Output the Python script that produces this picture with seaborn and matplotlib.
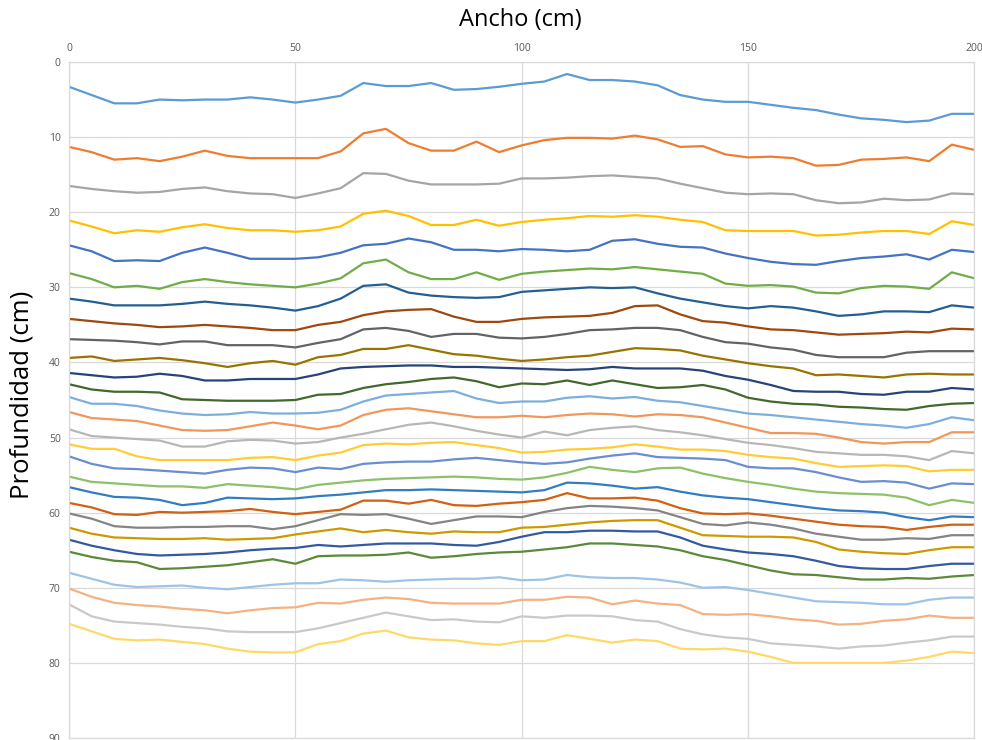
import numpy as np
import pandas as pd
import matplotlib
matplotlib.use('Agg')
import matplotlib.pyplot as plt
import seaborn as sns

# ancho (cm), cada 5 cm
ancho = list(range(0, 201, 5))

# profundidad de cada perfil (cm)
p01 = [3.3, 4.4, 5.5, 5.5, 5.0, 5.1, 5.0, 5.0, 4.7, 5.0, 5.4, 5.0, 4.5, 2.8, 3.2, 3.2, 2.8, 3.7, 3.6, 3.3, 2.9,
       2.6, 1.6, 2.4, 2.4, 2.6, 3.1, 4.4, 5.0, 5.3, 5.3, 5.7, 6.1, 6.4, 7.0, 7.5, 7.7, 8.0, 7.8, 6.9, 6.9]
p02 = [11.3, 12.0, 13.0, 12.8, 13.2, 12.6, 11.8, 12.5, 12.8, 12.8, 12.8, 12.8, 11.9, 9.5, 8.9, 10.8, 11.8, 11.8, 10.6, 12.0, 11.1,
       10.4, 10.1, 10.1, 10.2, 9.8, 10.3, 11.3, 11.2, 12.3, 12.7, 12.6, 12.8, 13.8, 13.7, 13.0, 12.9, 12.7, 13.2, 11.0, 11.7]
p03 = [16.5, 16.9, 17.2, 17.4, 17.3, 16.9, 16.7, 17.2, 17.5, 17.6, 18.1, 17.5, 16.8, 14.8, 14.9, 15.8, 16.3, 16.3, 16.3, 16.2, 15.5,
       15.5, 15.4, 15.2, 15.1, 15.3, 15.5, 16.2, 16.8, 17.4, 17.6, 17.5, 17.6, 18.4, 18.8, 18.7, 18.2, 18.4, 18.3, 17.5, 17.6]
p04 = [21.1, 21.9, 22.8, 22.4, 22.6, 22.0, 21.6, 22.1, 22.4, 22.4, 22.6, 22.4, 21.9, 20.2, 19.8, 20.5, 21.7, 21.7, 21.0, 21.8, 21.3,
       21.0, 20.8, 20.5, 20.6, 20.4, 20.6, 21.0, 21.3, 22.4, 22.5, 22.5, 22.5, 23.1, 23.0, 22.7, 22.5, 22.5, 22.9, 21.2, 21.7]
p05 = [24.4, 25.2, 26.5, 26.4, 26.5, 25.4, 24.7, 25.4, 26.2, 26.2, 26.2, 26.0, 25.4, 24.4, 24.2, 23.5, 24.0, 25.0, 25.0, 25.2, 24.9,
       25.0, 25.2, 25.0, 23.8, 23.6, 24.2, 24.6, 24.7, 25.5, 26.1, 26.6, 26.9, 27.0, 26.5, 26.1, 25.9, 25.6, 26.3, 25.0, 25.3]
p06 = [28.1, 28.9, 30.0, 29.8, 30.2, 29.3, 28.9, 29.3, 29.6, 29.8, 30.0, 29.5, 28.8, 26.8, 26.3, 28.0, 28.9, 28.9, 28.0, 29.0, 28.2,
       27.9, 27.7, 27.5, 27.6, 27.3, 27.6, 27.9, 28.2, 29.5, 29.8, 29.7, 29.9, 30.7, 30.8, 30.1, 29.8, 29.9, 30.2, 28.0, 28.8]
p07 = [31.5, 31.9, 32.4, 32.4, 32.4, 32.2, 31.9, 32.2, 32.4, 32.7, 33.1, 32.5, 31.5, 29.8, 29.6, 30.7, 31.1, 31.3, 31.4, 31.3, 30.6,
       30.4, 30.2, 30.0, 30.1, 30.0, 30.8, 31.5, 32.0, 32.5, 32.8, 32.5, 32.7, 33.2, 33.8, 33.6, 33.2, 33.2, 33.3, 32.4, 32.7]
p08 = [34.2, 34.5, 34.8, 35.0, 35.3, 35.2, 35.0, 35.2, 35.4, 35.7, 35.7, 35.0, 34.6, 33.7, 33.2, 33.0, 32.9, 33.9, 34.6, 34.6, 34.2,
       34.0, 33.9, 33.8, 33.4, 32.5, 32.4, 33.6, 34.5, 34.7, 35.2, 35.6, 35.7, 36.0, 36.3, 36.2, 36.1, 35.9, 36.0, 35.5, 35.6]
p09 = [36.9, 37.0, 37.1, 37.3, 37.6, 37.2, 37.2, 37.7, 37.7, 37.7, 38.0, 37.4, 36.9, 35.6, 35.4, 35.8, 36.6, 36.2, 36.2, 36.7, 36.8,
       36.6, 36.2, 35.7, 35.6, 35.4, 35.4, 35.7, 36.6, 37.3, 37.5, 38.0, 38.3, 39.0, 39.3, 39.3, 39.3, 38.7, 38.5, 38.5, 38.5]
p10 = [39.4, 39.2, 39.8, 39.6, 39.4, 39.7, 40.1, 40.6, 40.1, 39.8, 40.3, 39.3, 39.0, 38.2, 38.2, 37.7, 38.3, 38.9, 39.1, 39.5, 39.8,
       39.6, 39.3, 39.1, 38.6, 38.1, 38.2, 38.4, 39.1, 39.6, 40.1, 40.5, 40.8, 41.7, 41.6, 41.8, 42.0, 41.6, 41.5, 41.6, 41.6]
p11 = [41.4, 41.7, 42.0, 41.9, 41.5, 41.8, 42.4, 42.4, 42.2, 42.2, 42.2, 41.6, 40.8, 40.6, 40.5, 40.4, 40.4, 40.6, 40.6, 40.7, 40.8,
       40.9, 41.0, 40.9, 40.6, 40.8, 40.8, 40.8, 41.1, 41.8, 42.3, 43.0, 43.8, 43.9, 43.9, 44.2, 44.3, 43.9, 43.9, 43.4, 43.6]
p12 = [42.9, 43.6, 43.9, 43.9, 44.0, 44.9, 45.0, 45.1, 45.1, 45.1, 45.0, 44.3, 44.2, 43.4, 42.9, 42.6, 42.2, 42.0, 42.5, 43.3, 42.8,
       42.9, 42.4, 43.0, 42.4, 42.9, 43.4, 43.3, 43.0, 43.6, 44.7, 45.2, 45.5, 45.6, 45.9, 46.0, 46.2, 46.3, 45.8, 45.5, 45.4]
p13 = [44.6, 45.5, 45.5, 45.8, 46.4, 46.8, 47.0, 46.9, 46.6, 46.8, 46.8, 46.7, 46.3, 45.2, 44.4, 44.2, 44.0, 43.8, 44.8, 45.4, 45.2,
       45.2, 44.7, 44.5, 44.8, 44.6, 45.1, 45.3, 45.8, 46.3, 46.8, 47.0, 47.3, 47.6, 47.9, 48.2, 48.4, 48.7, 48.2, 47.3, 47.7]
p14 = [46.6, 47.4, 47.6, 47.8, 48.4, 49.0, 49.1, 49.0, 48.5, 48.0, 48.4, 48.9, 48.4, 47.0, 46.3, 46.1, 46.5, 46.9, 47.3, 47.3, 47.1,
       47.3, 47.0, 46.8, 46.9, 47.2, 46.9, 47.0, 47.3, 48.0, 48.7, 49.4, 49.4, 49.5, 50.0, 50.6, 50.8, 50.6, 50.6, 49.3, 49.3]
p15 = [48.9, 49.8, 50.0, 50.2, 50.4, 51.2, 51.2, 50.5, 50.3, 50.4, 50.8, 50.6, 50.0, 49.5, 48.9, 48.3, 48.0, 48.5, 49.1, 49.6, 50.0,
       49.2, 49.7, 49.0, 48.7, 48.5, 49.0, 49.3, 49.7, 50.2, 50.7, 51.0, 51.4, 51.9, 52.1, 52.3, 52.3, 52.5, 53.0, 51.8, 52.1]
p16 = [50.9, 51.5, 51.5, 52.5, 53.0, 53.0, 53.0, 53.0, 52.7, 52.6, 53.0, 52.4, 52.0, 51.0, 50.8, 50.9, 50.7, 50.6, 51.0, 51.4, 52.0,
       51.9, 51.6, 51.5, 51.3, 50.9, 51.2, 51.6, 51.6, 51.8, 52.3, 52.6, 52.8, 53.4, 53.9, 53.8, 53.7, 53.8, 54.5, 54.3, 54.3]
p17 = [52.5, 53.5, 54.1, 54.2, 54.4, 54.6, 54.8, 54.3, 54.0, 54.1, 54.6, 54.0, 54.2, 53.5, 53.3, 53.2, 53.2, 52.9, 52.7, 53.0, 53.3,
       53.5, 53.3, 52.8, 52.4, 52.1, 52.6, 52.7, 52.8, 53.0, 53.9, 54.1, 54.1, 54.6, 55.3, 55.9, 55.8, 56.0, 56.8, 56.1, 56.2]
p18 = [55.2, 55.9, 56.1, 56.3, 56.5, 56.5, 56.7, 56.2, 56.4, 56.6, 56.9, 56.3, 56.0, 55.7, 55.5, 55.4, 55.3, 55.2, 55.3, 55.5, 55.6,
       55.3, 54.7, 53.9, 54.3, 54.6, 54.1, 54.0, 54.8, 55.4, 55.9, 56.3, 56.8, 57.2, 57.4, 57.5, 57.6, 58.0, 59.0, 58.3, 58.7]
p19 = [56.6, 57.3, 57.9, 58.0, 58.3, 59.0, 58.7, 58.0, 58.1, 58.2, 58.1, 57.8, 57.6, 57.3, 57.0, 57.0, 56.9, 57.0, 57.1, 57.2, 57.3,
       57.0, 56.0, 56.1, 56.4, 56.8, 56.6, 57.2, 57.7, 58.0, 58.2, 58.6, 59.0, 59.4, 59.7, 59.8, 60.0, 60.6, 61.0, 60.5, 60.6]
p20 = [58.7, 59.3, 60.2, 60.3, 59.9, 60.0, 59.9, 59.8, 59.5, 59.9, 60.2, 59.9, 59.6, 58.4, 58.4, 58.8, 58.3, 59.0, 59.1, 58.8, 58.6,
       58.3, 57.4, 58.1, 58.1, 58.0, 58.4, 59.4, 60.1, 60.2, 60.1, 60.4, 60.8, 61.2, 61.6, 61.8, 61.9, 62.3, 61.9, 61.6, 61.6]
p21 = [60.1, 60.8, 61.8, 62.0, 62.0, 61.9, 61.9, 61.8, 61.8, 62.2, 61.8, 61.0, 60.2, 60.3, 60.2, 60.8, 61.5, 61.0, 60.5, 60.5, 60.6,
       59.9, 59.4, 59.1, 59.2, 59.4, 59.7, 60.6, 61.5, 61.7, 61.3, 61.6, 62.1, 62.8, 63.2, 63.6, 63.6, 63.4, 63.5, 63.0, 63.0]
p22 = [62.0, 62.8, 63.3, 63.4, 63.5, 63.5, 63.4, 63.6, 63.5, 63.4, 62.9, 62.5, 62.1, 62.6, 62.3, 62.6, 62.8, 62.5, 62.6, 62.6, 62.0,
       61.9, 61.6, 61.3, 61.1, 61.0, 61.0, 62.0, 63.0, 63.1, 63.2, 63.2, 63.3, 63.9, 64.9, 65.2, 65.4, 65.5, 65.0, 64.6, 64.6]
p23 = [63.6, 64.4, 65.0, 65.5, 65.7, 65.6, 65.5, 65.3, 65.0, 64.8, 64.7, 64.3, 64.5, 64.3, 64.1, 64.1, 64.1, 64.3, 64.4, 63.9, 63.2,
       62.6, 62.6, 62.4, 62.4, 62.5, 62.5, 63.3, 64.4, 64.9, 65.3, 65.5, 65.8, 66.4, 67.1, 67.4, 67.5, 67.5, 67.1, 66.8, 66.8]
p24 = [65.2, 65.9, 66.4, 66.6, 67.5, 67.4, 67.2, 67.0, 66.6, 66.2, 66.8, 65.8, 65.7, 65.7, 65.6, 65.3, 66.0, 65.8, 65.5, 65.3, 65.2,
       64.9, 64.6, 64.1, 64.1, 64.3, 64.5, 65.0, 65.8, 66.3, 67.0, 67.7, 68.2, 68.3, 68.6, 68.9, 68.9, 68.7, 68.8, 68.5, 68.3]
p25 = [68.0, 68.8, 69.6, 69.9, 69.8, 69.7, 70.0, 70.2, 69.9, 69.6, 69.4, 69.4, 68.9, 69.0, 69.2, 69.0, 68.9, 68.8, 68.8, 68.6, 69.0,
       68.9, 68.3, 68.6, 68.7, 68.7, 68.9, 69.3, 70.0, 69.9, 70.3, 70.8, 71.3, 71.8, 71.9, 72.0, 72.2, 72.2, 71.6, 71.3, 71.3]
p26 = [70.1, 71.2, 72.0, 72.3, 72.5, 72.8, 73.0, 73.4, 73.0, 72.7, 72.6, 72.0, 72.1, 71.6, 71.3, 71.5, 72.0, 72.1, 72.1, 72.1, 71.6,
       71.6, 71.2, 71.3, 72.2, 71.7, 72.1, 72.3, 73.5, 73.6, 73.5, 73.8, 74.2, 74.4, 74.9, 74.8, 74.4, 74.2, 73.7, 74.0, 74.0]
p27 = [72.2, 73.8, 74.5, 74.7, 74.9, 75.2, 75.4, 75.8, 75.9, 75.9, 75.9, 75.4, 74.7, 74.0, 73.3, 73.8, 74.3, 74.2, 74.5, 74.6, 73.8,
       74.0, 73.7, 73.7, 73.8, 74.3, 74.5, 75.5, 76.2, 76.6, 76.8, 77.4, 77.6, 77.8, 78.1, 77.8, 77.7, 77.3, 77.0, 76.5, 76.5]
p28 = [74.8, 75.8, 76.8, 77.0, 76.9, 77.2, 77.5, 78.1, 78.5, 78.6, 78.6, 77.5, 77.1, 76.1, 75.7, 76.6, 76.9, 77.0, 77.4, 77.6, 77.1,
       77.1, 76.3, 76.8, 77.3, 76.9, 77.1, 78.1, 78.2, 78.1, 78.5, 79.2, 80.0, 80.0, 80.0, 80.0, 80.0, 79.7, 79.2, 78.5, 78.7]

perfiles = [p01, p02, p03, p04, p05, p06, p07, p08, p09, p10, p11, p12, p13, p14,
            p15, p16, p17, p18, p19, p20, p21, p22, p23, p24, p25, p26, p27, p28]

# paleta por defecto de Excel (Office)
colores = ['#5B9BD5', '#ED7D31', '#A5A5A5', '#FFC000', '#4472C4', '#70AD47',
           '#255E91', '#9E480E', '#636363', '#997300', '#264478', '#43682B',
           '#7CAFDD', '#F1975A', '#B7B7B7', '#FFCD33', '#698ED0', '#8CC168',
           '#327DC2', '#D26012', '#848484', '#CC9A00', '#335AA1', '#5A8A39',
           '#9DC3E6', '#F4B183', '#C9C9C9', '#FFD966']

rows = []
for i, prof in enumerate(perfiles):
    for x, y in zip(ancho, prof):
        rows.append({'serie': f'S{i+1}', 'ancho': x, 'prof': y})
df = pd.DataFrame(rows)

sns.set_style('white')
plt.rcParams['font.family'] = ['Open Sans', 'DejaVu Sans']

fig = plt.figure(figsize=(9.82, 7.4), dpi=100)
ax = fig.add_axes([0.0703, 0.0027, 0.922, 0.9135])

sns.lineplot(data=df, x='ancho', y='prof', hue='serie', palette=colores,
             estimator=None, sort=False, legend=False, linewidth=1.6, ax=ax)

ax.set_xlim(0, 200)
ax.set_ylim(90, 0)
ax.set_xticks([0, 50, 100, 150, 200])
ax.set_yticks(range(0, 91, 10))
ax.xaxis.tick_top()
ax.tick_params(axis='both', length=0, labelsize=7.5, labelcolor='#595959', pad=6)
ax.grid(True, color='#d9d9d9', linewidth=0.9)
ax.set_axisbelow(True)
for s in ax.spines.values():
    s.set_color('#d9d9d9')
    s.set_linewidth(0.9)
ax.set_xlabel('')
ax.set_ylabel('')

fig.text(0.53, 0.973, 'Ancho (cm)', ha='center', va='center', fontsize=17, color='black')
fig.text(0.022, 0.466, 'Profundidad (cm)', ha='center', va='center', rotation=90,
         fontsize=18.5, color='black')

fig.savefig('out.png', dpi=100)
